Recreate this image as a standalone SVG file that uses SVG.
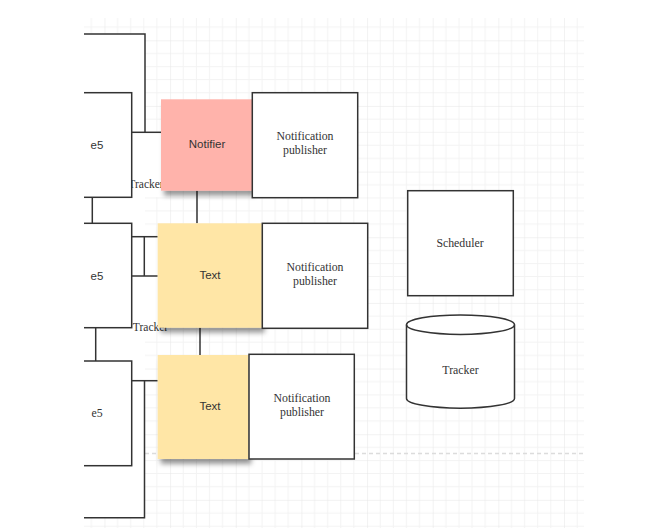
<svg xmlns="http://www.w3.org/2000/svg" width="646" height="528" viewBox="0 0 646 528">
<style>
.box{fill:#fff;stroke:#333;stroke-width:1.5}
.ln{fill:none;stroke:#333;stroke-width:1.5}
.sans{font-family:"Liberation Sans",Arial,sans-serif;font-size:11.5px;fill:#333;text-anchor:middle;dominant-baseline:central}
.serif{font-family:"Liberation Serif","Times New Roman",serif;font-size:11.8px;fill:#333;text-anchor:middle;dominant-baseline:central}
</style>
<defs>
<pattern id="grid" patternUnits="userSpaceOnUse" x="104.45" y="40.3" width="65.65" height="65.65">
<path d="M13.13 0V65.65M26.26 0V65.65M39.39 0V65.65M52.52 0V65.65M0 13.13H65.65M0 26.26H65.65M0 39.39H65.65M0 52.52H65.65" stroke="#f3f3f3" stroke-width="1" fill="none"/>
<path d="M0 0V65.65M0 0H65.65" stroke="#e6e6e6" stroke-width="1" fill="none"/>
</pattern>
<filter id="sh" x="-20%" y="-20%" width="150%" height="150%">
<feDropShadow dx="3" dy="5" stdDeviation="2.5" flood-color="#000" flood-opacity="0.4"/>
</filter>
<clipPath id="view"><rect x="84" y="0" width="562" height="528"/></clipPath>
</defs>
<rect x="0" y="0" width="646" height="528" fill="#fff"/>
<rect x="84" y="18" width="500" height="510" fill="url(#grid)"/>
<line x1="145" y1="453.5" x2="584" y2="453.5" stroke="#dcdcdc" stroke-width="1.5" stroke-dasharray="4 3"/>
<g clip-path="url(#view)">
<rect x="84" y="34" width="61" height="484" fill="#fff"/>
<rect x="131" y="132" width="30" height="65" fill="#fff"/>
<rect x="131" y="236" width="27" height="92" fill="#fff"/>
<text class="serif" x="146" y="184" style="font-size:11.5px">Tracker</text>
<text class="serif" x="150.5" y="327" style="font-size:11.5px">Tracker</text>
<g id="connectors">
<polyline class="ln" points="60,34 145,34 145,132"/>
<line class="ln" x1="131.7" y1="132.3" x2="161" y2="132.3"/>
<line class="ln" x1="92.3" y1="197" x2="92.3" y2="223"/>
<line class="ln" x1="197" y1="190.7" x2="197" y2="223.3"/>
<line class="ln" x1="131.7" y1="236.7" x2="157.7" y2="236.7"/>
<line class="ln" x1="131.7" y1="276" x2="157.7" y2="276"/>
<line class="ln" x1="144.3" y1="236.7" x2="144.3" y2="276"/>
<line class="ln" x1="95.7" y1="327.7" x2="95.7" y2="361"/>
<line class="ln" x1="200" y1="327.7" x2="200" y2="355"/>
<line class="ln" x1="131.7" y1="380.7" x2="157.7" y2="380.7"/>
<polyline class="ln" points="60,517.7 144.5,517.7 144.5,380.7"/>
</g>
<g id="e5-1"><rect class="box" x="40" y="92.7" width="91.7" height="104.6"/><text class="sans" x="97" y="145">e5</text></g>
<g id="e5-2"><rect class="box" x="40" y="223.3" width="91.7" height="104.4"/><text class="sans" x="97" y="276">e5</text></g>
<g id="e5-3"><rect class="box" x="40" y="361" width="91.7" height="104.7"/><text class="serif" x="97" y="413">e5</text></g>
</g>
<g id="notifier"><rect x="161" y="99.3" width="91" height="91.4" fill="#ffb3ab" filter="url(#sh)"/><text class="sans" x="207" y="144">Notifier</text></g>
<g id="pub1"><rect class="box" x="252.3" y="92.7" width="105.4" height="105"/><text class="serif" x="305" y="135.5">Notification</text><text class="serif" x="305" y="150">publisher</text></g>
<g id="text1"><rect x="157.7" y="223.3" width="104" height="104.4" fill="#ffe6a6" filter="url(#sh)"/><text class="sans" x="210" y="275">Text</text></g>
<g id="pub2"><rect class="box" x="262.3" y="223.3" width="105.4" height="105"/><text class="serif" x="315" y="266.5">Notification</text><text class="serif" x="315" y="281">publisher</text></g>
<g id="text2"><rect x="157.7" y="355" width="90.6" height="104" fill="#ffe6a6" filter="url(#sh)"/><text class="sans" x="210" y="406">Text</text></g>
<g id="pub3"><rect class="box" x="249" y="354.3" width="105.3" height="104.7"/><text class="serif" x="302" y="397.5">Notification</text><text class="serif" x="302" y="412">publisher</text></g>
<g id="scheduler"><rect class="box" x="407.7" y="190.7" width="105.6" height="105"/><text class="serif" x="460" y="243">Scheduler</text></g>
<g id="tracker">
<path class="box" d="M406.5 324.7V398.5A54 9.7 0 0 0 514.5 398.5V324.7A54 9.7 0 0 0 406.5 324.7Z"/>
<path class="ln" d="M406.5 324.7A54 9.7 0 0 0 514.5 324.7"/>
<text class="serif" x="460.5" y="370">Tracker</text>
</g>
</svg>
